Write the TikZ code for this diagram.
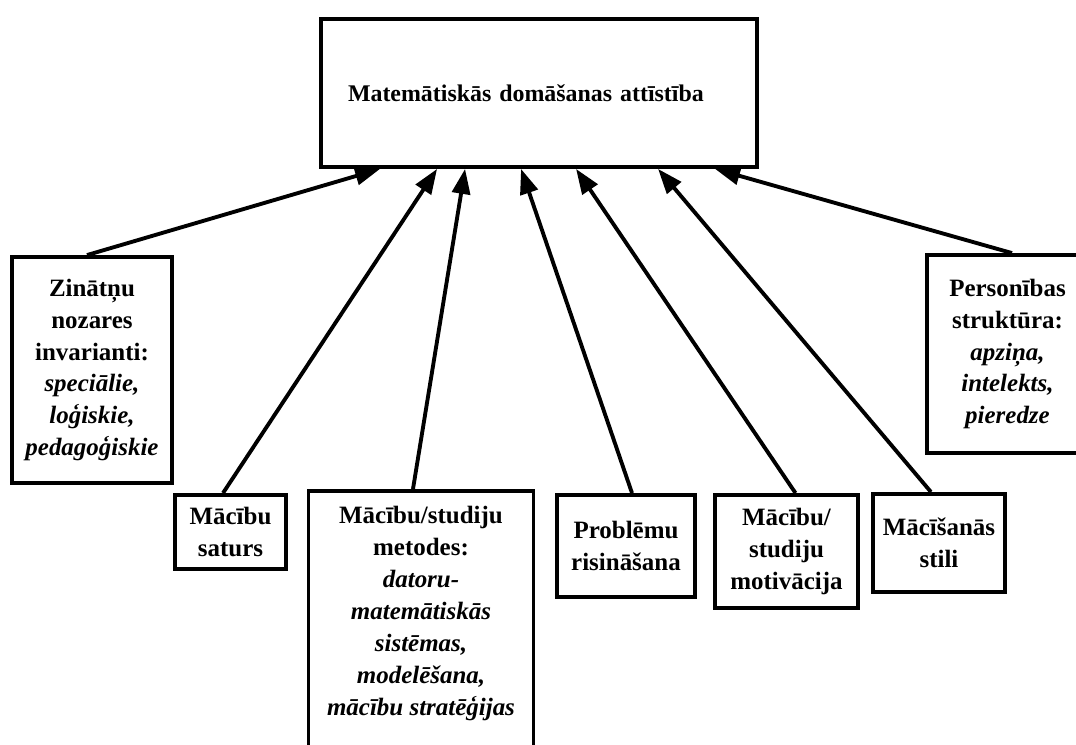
\documentclass[tikz,border=0pt]{standalone}
\usepackage{fontspec}
\setmainfont{Liberation Serif}
\usepackage{tikz}
\usetikzlibrary{arrows.meta}

\begin{document}
\begin{tikzpicture}[
    box/.style={draw, line width=2.2pt, align=center, inner sep=0.15cm,
        font=\fontsize{14.2}{18.2}\selectfont\bfseries},
    infl/.style={line width=2.2pt, -{Triangle[length=0.5cm,width=0.36cm]}}
]
    \useasboundingbox (0,0) rectangle (21.52,14.88);

    % Goal on top
    \node[box, font=\fontsize{13.6}{18.2}\selectfont\bfseries, text width=7.64cm, inner xsep=0.54cm, align=left,
        minimum height=2.96cm] (goal) at (10.78,13.02)
        {Matemātiskās domāšanas attīstība};

    % Factors
    \node[box, minimum width=3.2cm, minimum height=4.52cm] (zin) at (1.84,7.48)
        {Zinātņu\\ nozares\\ invarianti:\\ \textit{speciālie,}\\ \textit{loģiskie,}\\ \textit{pedagoģiskie}};
    \node[box, minimum width=2.22cm, minimum height=1.48cm] (saturs) at (4.61,4.24)
        {Mācību\\ saturs};
    \node[box, anchor=north, minimum width=4.36cm, inner ysep=0.3cm] (metodes) at (8.42,5.10)
        {\parbox[t][5.5cm][t]{4.2cm}{\centering Mācību/studiju\\ metodes:\\ \textit{datoru-}\\ \textit{matemātiskās}\\ \textit{sistēmas,}\\ \textit{modelēšana,}\\ \textit{mācību stratēģijas}}};
    \node[box, minimum width=2.76cm, minimum height=2.04cm] (problemu) at (12.52,3.96)
        {Problēmu\\ risināšana};
    \node[box, minimum width=2.86cm, minimum height=2.26cm] (motiv) at (15.73,3.85)
        {Mācību/\\ studiju\\ motivācija};
    \node[box, minimum width=2.64cm, minimum height=1.96cm] (stili) at (18.78,4.02)
        {Mācīšanās\\ stili};
    \node[box, minimum width=3.22cm, minimum height=3.96cm] (pers) at (20.15,7.80)
        {Personības\\ struktūra:\\ \textit{apziņa,}\\ \textit{intelekts,}\\ \textit{pieredze}};

    % Influences
    \draw[infl] ([xshift=-0.1cm]zin.north) -- ([xshift=1.22cm]goal.south west);
    \draw[infl] ([xshift=-0.15cm]saturs.north) -- ([xshift=2.36cm]goal.south west);
    \draw[infl] ([xshift=-0.16cm]metodes.north) -- ([xshift=2.92cm]goal.south west);
    \draw[infl] ([xshift=0.12cm]problemu.north) -- ([xshift=4.04cm]goal.south west);
    \draw[infl] ([xshift=0.18cm]motiv.north) -- ([xshift=5.14cm]goal.south west);
    \draw[infl] ([xshift=-0.16cm]stili.north) -- ([xshift=6.78cm]goal.south west);
    \draw[infl] ([xshift=0.09cm]pers.north) -- ([xshift=7.92cm]goal.south west);
\end{tikzpicture}
\end{document}
